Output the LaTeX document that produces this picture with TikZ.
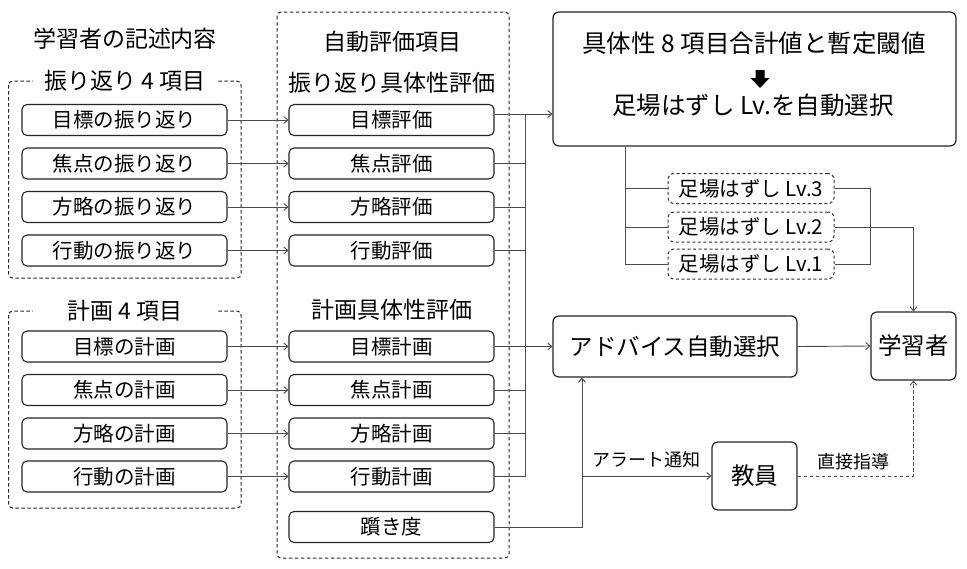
\documentclass[tikz,border=0pt]{standalone}
\usepackage{fontspec}
\setmainfont{Noto Sans CJK JP}
\usetikzlibrary{arrows.meta}
\begin{document}
\begin{tikzpicture}[x=1pt,y=-1pt,
  box/.style={draw=black!85, line width=1.1pt, rounded corners=5pt, minimum width=205pt, minimum height=31pt, inner sep=0pt, font=\fontsize{20.5}{22}\selectfont},
  bigbox/.style={draw=black!85, line width=1.2pt, rounded corners=6pt, inner sep=0pt, font=\fontsize{23.5}{26}\selectfont},
  lvbox/.style={draw=black!80, line width=1pt, dash pattern=on 3pt off 2.5pt, rounded corners=6pt, minimum width=166pt, minimum height=30pt, inner sep=0pt, font=\fontsize{20.5}{22}\selectfont},
  grp/.style={draw=black!85, line width=1pt, dash pattern=on 3.5pt off 2.5pt, rounded corners=4pt},
  ttl/.style={font=\fontsize{23}{26}\selectfont, inner sep=0pt},
  gttl/.style={ttl, fill=white, minimum width=184pt, minimum height=26pt},
  lbl/.style={font=\fontsize{18}{20}\selectfont, inner sep=0pt},
  conn/.style={draw=black!70, line width=0.9pt},
  arr/.style={conn, -{Straight Barb[length=4pt,width=7pt]}},
]
\fill[white] (0,0) rectangle (967,568);
\useasboundingbox (0,0) rectangle (967,568);

% group frames
\draw[grp] (8.6,81) rectangle (241,278);
\draw[grp] (8.6,311) rectangle (241,508);
\draw[grp] (277,12) rectangle (509,558);

% titles
\node[ttl] (t1) at (125,39) {学習者の記述内容};
\node[gttl] (t2) at (125,81) {振り返り 4 項目};
\node[gttl] (t3) at (125,311) {計画 4 項目};
\node[ttl] (t4) at (392,42) {自動評価項目};
\node[ttl] (t5) at (392,83) {振り返り具体性評価};
\node[ttl] (t6) at (392,310) {計画具体性評価};

% left boxes
\node[box] (L1) at (124.5,120) {目標の振り返り};
\node[box] (L2) at (124.5,163.5) {焦点の振り返り};
\node[box] (L3) at (124.5,207) {方略の振り返り};
\node[box] (L4) at (124.5,250.5) {行動の振り返り};
\node[box] (L5) at (124.5,346.5) {目標の計画};
\node[box] (L6) at (124.5,390) {焦点の計画};
\node[box] (L7) at (124.5,433.5) {方略の計画};
\node[box] (L8) at (124.5,476.5) {行動の計画};

% middle boxes
\node[box] (M1) at (391.5,120) {目標評価};
\node[box] (M2) at (391.5,163.5) {焦点評価};
\node[box] (M3) at (391.5,207) {方略評価};
\node[box] (M4) at (391.5,250.5) {行動評価};
\node[box] (M5) at (391.5,346.5) {目標計画};
\node[box] (M6) at (391.5,390) {焦点計画};
\node[box] (M7) at (391.5,433.5) {方略計画};
\node[box] (M8) at (391.5,476.5) {行動計画};
\node[box] (T) at (391.5,527) {躓き度};

% right nodes
\node[bigbox, minimum width=403pt, minimum height=134pt] (sum) at (754.5,79) {};
\node[inner sep=0pt, font=\fontsize{24.5}{26}\selectfont] (sumA) at (754,43) {具体性 8 項目合計値と暫定閾値};
\node[inner sep=0pt, font=\fontsize{24.5}{26}\selectfont] (sumB) at (753,105) {足場はずし Lv.を自動選択};
\fill[black] (755.5,70) -- (764.5,70) -- (764.5,78) -- (769.5,78) -- (760,88) -- (750.5,78) -- (755.5,78) -- cycle;

\node[lvbox] (LV3) at (751,188.5) {足場はずし Lv.3};
\node[lvbox] (LV2) at (751,227) {足場はずし Lv.2};
\node[lvbox] (LV1) at (751,264) {足場はずし Lv.1};

\node[bigbox, minimum width=244pt, minimum height=61pt] (adv) at (675,346.5) {アドバイス自動選択};
\node[bigbox, minimum width=85pt, minimum height=68pt] (lrn) at (913.5,346) {学習者};
\node[bigbox, minimum width=85pt, minimum height=68pt] (tch) at (754.5,476) {教員};

% left -> middle
\foreach \i in {1,...,8} { \draw[arr] (L\i) -- (M\i); }

% bus
\coordinate (busTop) at (525,114);
\coordinate (busBot) at (525,476.5);
\draw[arr] ([yshift=6pt]M1.east) -- ([yshift=6pt]M1.east -| sum.west);
\draw[conn] (busTop) -- (busBot) -- (M8.east);
\foreach \i in {2,3,4,6,7} { \draw[conn] (M\i.east) -- (M\i.east -| busTop); }
\draw[arr] (M5.east) -- (adv.west);

% levels
\coordinate (lvL) at (625,264);
\coordinate (lvR) at (870,264);
\draw[conn] (sum.south -| lvL) -- (lvL) -- (LV1.west);
\draw[conn] (LV3.west -| lvL) -- (LV3.west);
\draw[conn] (LV2.west -| lvL) -- (LV2.west);
\draw[conn] (LV3.east) -- (LV3.east -| lvR) -- (lvR) -- (LV1.east);
\draw[arr] (LV2.east) -- (LV2.east -| lrn.north) -- (lrn.north);

% advice -> learner
\draw[arr] (adv.east) -- (lrn.west);

% stumble
\coordinate (tb) at (582,527);
\draw[arr] (T.east) -- (tb) -- (tb |- adv.south);
\draw[arr] (tb |- tch.west) -- (tch.west) node[lbl, midway, above=8pt] (al) {アラート通知};
\draw[arr, dash pattern=on 3.5pt off 2.5pt] (tch.east) -- (tch.east -| lrn.south) -- (lrn.south);
\node[lbl] (dl) at (853,462) {直接指導};
\end{tikzpicture}
\end{document}
